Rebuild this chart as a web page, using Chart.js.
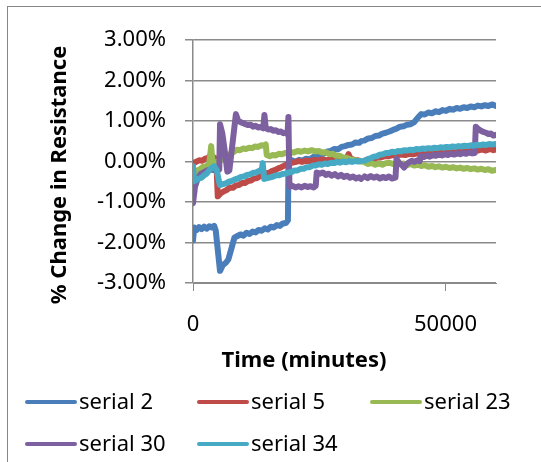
<!DOCTYPE html>
<html>
<head>
<meta charset="utf-8">
<script src="https://cdn.jsdelivr.net/npm/chart.js@4.4.1/dist/chart.umd.min.js"></script>
<style>
html,body{margin:0;padding:0;background:#fff;overflow:hidden}
#frame{position:absolute;left:7px;top:6px;width:600px;height:520px;border:1px solid #868686;box-sizing:border-box}
#wrap{position:absolute;left:0;top:0;width:541px;height:462px}
</style>
</head>
<body>
<div id="frame"></div>
<div id="wrap"><canvas id="ch" width="541" height="462"></canvas></div>
<script>
/* ---------- data: [minutes, % change] ---------- */
const seriesNames=['serial 2','serial 5','serial 23','serial 30','serial 34'];
const seriesColors=['#4A7EBB','#BE4B48','#98B954','#7D60A0','#46AAC5'];
const xTicks=[0,50000];
const yTicks=[-3,-2,-1,0,1,2,3];

const serial2=[[0,-1.95],[250,-1.63],[700,-1.69],[1200,-1.62],[1700,-1.67],[2200,-1.61],[2700,-1.66],[3200,-1.60],[3700,-1.63],[4200,-1.59],[4500,-1.70],[5350,-2.70],[5900,-2.56],[6500,-2.50],[7000,-2.42],[7600,-2.15],[8200,-1.88],[8800,-1.84],[9400,-1.80],[10000,-1.83],[10600,-1.76],[11200,-1.79],[11800,-1.73],[12400,-1.75],[13000,-1.69],[13600,-1.71],[14200,-1.65],[14800,-1.68],[15400,-1.61],[16000,-1.63],[16600,-1.57],[17200,-1.59],[17800,-1.53],[18400,-1.52],[18800,-1.45],[18900,-0.02],[19600,0.03],[20300,-0.01],[21000,0.04],[21700,0.02],[22400,0.07],[23100,0.05],[23800,0.11],[24500,0.13],[25200,0.18],[25900,0.19],[26600,0.25],[27300,0.26],[28000,0.31],[28700,0.30],[29400,0.36],[30100,0.38],[30800,0.41],[31500,0.42],[32200,0.47],[32900,0.46],[33300,0.50],[33600,null],[34000,0.52],[34700,0.57],[35400,0.58],[36100,0.63],[36800,0.64],[37500,0.69],[38200,0.71],[38900,0.74],[39600,0.78],[40300,0.81],[41000,0.86],[41700,0.87],[42400,0.91],[43100,0.92],[43800,0.97],[44500,1.08],[45200,1.17],[45900,1.16],[46600,1.21],[47300,1.19],[48000,1.24],[48700,1.22],[49400,1.27],[50100,1.25],[50800,1.30],[51500,1.28],[52200,1.32],[52900,1.30],[53600,1.34],[54300,1.32],[55000,1.36],[55700,1.34],[56400,1.38],[57100,1.36],[57800,1.39],[58500,1.37],[59200,1.41],[60000,1.37]];
const serial5=[[0,-0.04],[600,-0.01],[1200,0.03],[1800,0.02],[2400,0.07],[3000,0.09],[3500,0.16],[4000,0.11],[4600,0.06],[4900,-0.86],[5500,-0.78],[6100,-0.74],[6700,-0.70],[7300,-0.64],[7900,-0.65],[8500,-0.59],[9100,-0.58],[9700,-0.53],[10300,-0.53],[10900,-0.48],[11500,-0.47],[12100,-0.42],[12700,-0.41],[13300,-0.36],[13900,-0.34],[14500,-0.29],[15100,-0.28],[15700,-0.23],[16300,-0.21],[16900,-0.17],[17500,-0.14],[18100,-0.10],[18700,-0.07],[19300,-0.04],[20000,-0.02],[20800,0.01],[21600,-0.01],[22400,0.02],[23200,0.01],[24000,0.04],[24800,0.02],[25600,0.05],[26400,0.03],[27200,0.06],[28000,0.04],[28800,0.07],[29600,0.05],[30400,0.08],[30800,0.18],[31200,0.07],[32000,0.04],[32700,0.03],[33300,0.01],[33600,null],[34000,0.02],[34800,0.05],[35600,0.07],[36400,0.09],[37200,0.10],[38000,0.13],[38800,0.13],[39600,0.16],[40400,0.15],[41200,0.17],[42000,0.16],[42800,0.19],[43600,0.18],[44400,0.20],[45200,0.19],[46000,0.21],[46800,0.20],[47600,0.22],[48400,0.21],[49200,0.23],[50000,0.22],[50800,0.24],[51600,0.23],[52400,0.25],[53200,0.24],[54000,0.26],[54800,0.25],[55600,0.28],[56400,0.27],[57200,0.30],[58000,0.27],[58800,0.31],[59500,0.28],[60000,0.30]];
const serial23=[[0,-0.50],[300,-0.30],[800,-0.22],[1400,-0.19],[2000,-0.13],[2600,-0.12],[3200,-0.07],[3600,0.38],[3900,-0.07],[4500,-0.03],[5100,0.02],[5700,0.05],[6300,0.10],[6900,0.13],[7500,0.20],[8100,0.24],[8700,0.29],[9300,0.28],[9900,0.32],[10500,0.31],[11100,0.34],[11700,0.33],[12300,0.37],[12900,0.36],[13500,0.40],[14100,0.39],[14400,0.42],[14600,0.16],[15200,0.13],[15800,0.16],[16400,0.15],[17000,0.19],[17600,0.18],[18200,0.21],[18800,0.20],[19400,0.23],[20000,0.22],[20700,0.26],[21400,0.24],[22100,0.27],[22800,0.25],[23500,0.28],[24200,0.25],[24900,0.26],[25600,0.22],[26300,0.23],[27000,0.18],[27700,0.19],[28400,0.14],[29100,0.14],[29800,0.09],[30500,0.09],[31200,0.05],[31900,0.04],[32600,0.01],[33300,0.00],[33600,null],[34000,-0.02],[34700,-0.06],[35400,-0.04],[36100,-0.08],[36800,-0.05],[37500,-0.08],[38200,-0.04],[38900,-0.03],[39600,-0.06],[40300,-0.03],[41000,-0.07],[41700,-0.05],[42400,-0.09],[43100,-0.06],[43800,-0.10],[44500,-0.08],[45200,-0.11],[45900,-0.09],[46600,-0.13],[47300,-0.11],[48000,-0.14],[48700,-0.12],[49400,-0.15],[50100,-0.13],[50800,-0.16],[51500,-0.14],[52200,-0.17],[52900,-0.15],[53600,-0.18],[54300,-0.16],[55000,-0.19],[55700,-0.17],[56400,-0.20],[57100,-0.18],[57800,-0.21],[58500,-0.19],[59200,-0.23],[60000,-0.21]];
const serial30=[[0,-1.03],[400,-0.62],[1000,-0.40],[1600,-0.30],[2200,-0.26],[2800,-0.22],[3400,-0.20],[4000,-0.21],[4600,-0.18],[5200,-0.20],[5350,0.92],[5800,0.70],[6300,0.25],[6800,-0.25],[7200,-0.22],[8500,1.17],[8900,1.02],[9400,0.97],[9900,0.95],[10400,0.92],[10900,0.90],[11400,0.91],[11900,0.86],[12400,0.88],[12900,0.84],[13400,0.85],[13900,0.82],[14150,1.15],[14400,0.83],[14900,0.79],[15400,0.80],[15900,0.76],[16400,0.77],[16900,0.73],[17400,0.74],[17900,0.70],[18400,0.71],[18700,0.67],[18900,1.10],[19100,-0.62],[19700,-0.60],[20300,-0.64],[20900,-0.61],[21500,-0.64],[22100,-0.60],[22700,-0.63],[23300,-0.61],[23900,-0.64],[24300,-0.60],[24500,-0.27],[25100,-0.30],[25700,-0.27],[26300,-0.33],[26900,-0.30],[27500,-0.35],[28100,-0.31],[28700,-0.37],[29300,-0.33],[29900,-0.38],[30500,-0.35],[31100,-0.40],[31700,-0.37],[32300,-0.42],[32900,-0.39],[33300,-0.43],[33600,null],[34000,-0.37],[34600,-0.41],[35200,-0.36],[35800,-0.40],[36400,-0.37],[37000,-0.42],[37600,-0.38],[38200,-0.41],[38800,-0.37],[39400,-0.42],[40100,-0.40],[40300,0.06],[40800,-0.03],[41300,-0.08],[41800,-0.15],[42300,-0.06],[42800,-0.02],[43300,0.02],[43800,-0.01],[44400,0.03],[44900,0.01],[45100,0.13],[45700,0.11],[46300,0.15],[46900,0.12],[47500,0.16],[48100,0.14],[48700,0.17],[49300,0.15],[49900,0.18],[50500,0.16],[51100,0.19],[51700,0.17],[52300,0.20],[52900,0.18],[53500,0.21],[54100,0.19],[54700,0.22],[55300,0.20],[55800,0.21],[56000,0.86],[56500,0.80],[57000,0.76],[57500,0.73],[58000,0.71],[58500,0.68],[59000,0.69],[59500,0.64],[60000,0.66]];
const serial34=[[0,-0.12],[200,-0.49],[700,-0.45],[1200,-0.42],[1700,-0.40],[2200,-0.34],[2700,-0.30],[3200,-0.22],[3700,-0.16],[4200,-0.12],[4700,-0.22],[5300,-0.58],[5900,-0.56],[6500,-0.54],[7100,-0.50],[7700,-0.48],[8300,-0.44],[8900,-0.42],[9500,-0.38],[10100,-0.37],[10700,-0.33],[11300,-0.32],[11900,-0.28],[12500,-0.27],[13100,-0.23],[13600,-0.22],[13800,-0.04],[14100,-0.43],[14700,-0.41],[15300,-0.39],[15900,-0.37],[16500,-0.34],[17100,-0.34],[17700,-0.31],[18300,-0.30],[18900,-0.27],[19500,-0.26],[20100,-0.22],[20700,-0.22],[21300,-0.18],[21900,-0.18],[22500,-0.14],[23100,-0.14],[23700,-0.10],[24300,-0.10],[24900,-0.07],[25500,-0.08],[26100,-0.05],[26700,-0.06],[27300,-0.03],[27900,-0.04],[28500,-0.01],[29100,-0.03],[29700,0.00],[30300,-0.02],[30900,0.01],[31500,-0.01],[32100,0.01],[32700,0.00],[33300,0.01],[33600,null],[34000,0.02],[34600,0.06],[35200,0.08],[35800,0.12],[36400,0.13],[37000,0.17],[37600,0.18],[38200,0.21],[38800,0.21],[39400,0.24],[40000,0.23],[40600,0.26],[41200,0.25],[41800,0.28],[42400,0.27],[43000,0.29],[43600,0.28],[44200,0.31],[44800,0.30],[45400,0.32],[46000,0.31],[46600,0.33],[47200,0.32],[47800,0.34],[48400,0.33],[49000,0.35],[49600,0.34],[50200,0.36],[50800,0.35],[51400,0.37],[52000,0.36],[52600,0.38],[53200,0.37],[53800,0.39],[54400,0.38],[55000,0.40],[55600,0.39],[56200,0.41],[56800,0.40],[57400,0.42],[58000,0.41],[58600,0.43],[59200,0.42],[60000,0.43]];
const seriesData=[serial2,serial5,serial23,serial30,serial34];

/* ---------- look ---------- */
const FONT='"Noto Sans", "Open Sans", sans-serif';
const GRID='#8a8a8a';
const yTitle='% Change in Resistance';
const xTitle='Time (minutes)';
const legendCols=[25,197,370];
const legendRows=[402,444];

/* axis titles + legend laid out like the Excel original */
const decor={
  id:'decor',
  afterDraw(chart){
    const c=chart.ctx;
    c.save();
    c.fillStyle='#000';
    c.font='bold 22px '+FONT;
    c.textAlign='center';c.textBaseline='middle';
    c.fillText(xTitle,304,361);
    c.translate(60,175);c.rotate(-Math.PI/2);
    c.fillText(yTitle,0,0);
    c.restore();
    c.save();
    c.font='22px '+FONT;c.textBaseline='alphabetic';c.textAlign='left';
    chart.data.datasets.forEach((ds,i)=>{
      const x0=legendCols[i%3],y=legendRows[Math.floor(i/3)];
      c.strokeStyle=ds.borderColor;c.lineWidth=4;c.lineCap='round';
      c.beginPath();c.moveTo(x0+2,y);c.lineTo(x0+50,y);c.stroke();
      c.fillStyle='#000';
      c.fillText(ds.label,x0+54,y+7);
    });
    c.restore();
  }
};

new Chart(document.getElementById('ch'),{
  type:'scatter',
  data:{datasets:seriesNames.map((n,i)=>({
    label:n,
    data:seriesData[i].map(p=>({x:p[0],y:p[1]})),
    showLine:true,borderColor:seriesColors[i],backgroundColor:seriesColors[i],
    borderWidth:6,borderJoinStyle:'round',borderCapStyle:'round',
    pointRadius:0,tension:0,spanGaps:false,order:seriesNames.length-i
  }))},
  options:{
    responsive:false,animation:false,events:[],
    layout:{padding:{left:0,top:40,right:45,bottom:84}},
    plugins:{legend:{display:false},tooltip:{enabled:false}},
    scales:{
      x:{type:'linear',min:0,max:60000,
        afterBuildTicks:s=>{s.ticks=xTicks.map(v=>({value:v}));},
        afterFit:s=>{s.height=95;},
        ticks:{color:'#000',font:{family:FONT,size:22},padding:21,callback:v=>String(v),maxRotation:0},
        grid:{drawOnChartArea:false,drawTicks:true,tickLength:8,color:GRID,lineWidth:1},
        border:{color:GRID,width:1}
      },
      y:{min:-3,max:3,
        afterBuildTicks:s=>{s.ticks=yTicks.map(v=>({value:v}));},
        afterFit:s=>{s.width=193;},
        ticks:{color:'#000',font:{family:FONT,size:22},padding:19,callback:v=>v.toFixed(2)+'%'},
        grid:{color:GRID,lineWidth:1.5,tickLength:8},
        border:{color:GRID,width:1.5}
      }
    }
  },
  plugins:[decor]
});
</script>
</body>
</html>
